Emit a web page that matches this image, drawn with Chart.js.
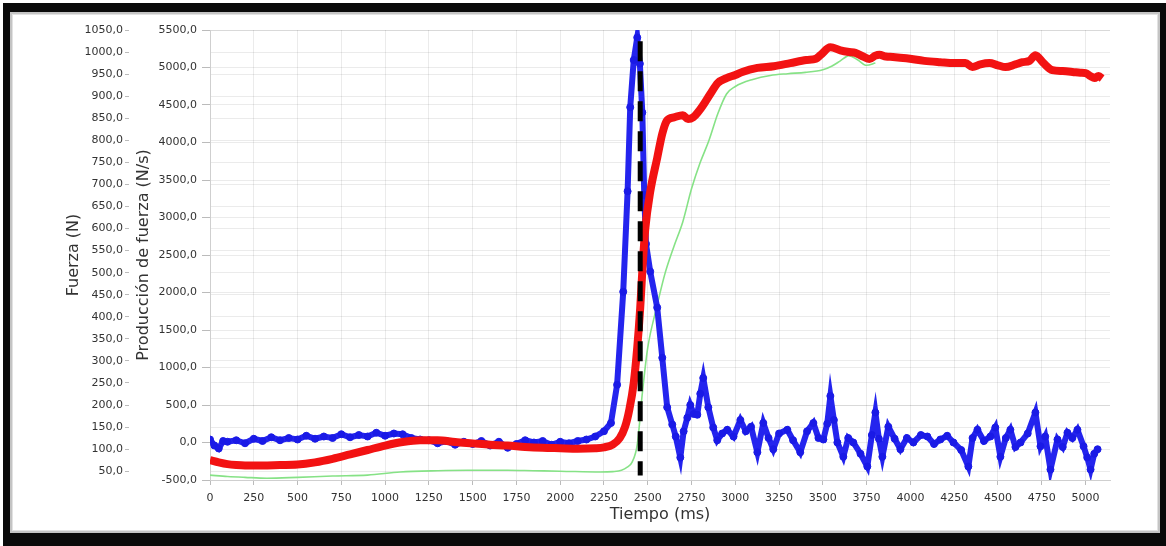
<!DOCTYPE html>
<html>
<head>
<meta charset="utf-8">
<script src="https://cdn.jsdelivr.net/npm/chart.js@4.4.1/dist/chart.umd.min.js"></script>
<style>
  body { margin: 0; background: #fff; }
  #frame { position: absolute; left: 3px; top: 3px; width: 1163px; height: 543px; background: #0a0a0a; }
  #panel { position: absolute; left: 10px; top: 12px; width: 1146px; height: 517px; background: #fff;
           border: 2px solid #c4c4c4; box-shadow: inset 0 0 0 1px #e2e2e2; }
  #wrap { position: absolute; left: 0; top: 0; width: 1166px; height: 546px; }
</style>
</head>
<body>
<div id="frame"></div>
<div id="panel"></div>
<div id="wrap"><canvas id="fuerzaChart" width="1166" height="546"></canvas></div>
<script>
// Producción de fuerza (N/s) - blue
const blueTime = [
  0, 25, 50, 75, 100, 150, 200, 250, 300, 350,
  400, 450, 500, 550, 600, 650, 700, 750, 800, 850,
  900, 950, 1000, 1050, 1100, 1150, 1200, 1250, 1300, 1350,
  1400, 1450, 1500, 1550, 1600, 1650, 1700, 1750, 1800, 1850,
  1900, 1950, 2000, 2050, 2100, 2150, 2200, 2250, 2290, 2325,
  2360, 2385, 2400, 2420, 2440, 2455, 2469, 2480, 2490, 2514,
  2554, 2583, 2611, 2640, 2660, 2686, 2705, 2726, 2743, 2763,
  2783, 2800, 2817, 2846, 2874, 2897, 2925, 2954, 2990, 3029,
  3060, 3090, 3126, 3160, 3190, 3217, 3250, 3297, 3330, 3371,
  3410, 3446, 3475, 3503, 3525, 3543, 3563, 3583, 3617, 3645,
  3674, 3715, 3754, 3780, 3800, 3820, 3840, 3874, 3910, 3943,
  3980, 4017, 4060, 4097, 4135, 4171, 4210, 4246, 4290, 4331,
  4355, 4383, 4420, 4457, 4485, 4514, 4545, 4571, 4600, 4629,
  4670, 4714, 4743, 4770, 4800, 4840, 4870, 4897, 4925, 4954,
  4989, 5010, 5029, 5050, 5069
];
const blueRate = [
  40, -40, -80, 20, 10, 30, -10, 50, 20, 70,
  30, 60, 40, 90, 50, 80, 60, 110, 70, 100,
  80, 130, 90, 120, 110, 60, 40, 30, -10, 20,
  -30, 10, -20, 20, -40, 10, -70, -20, 30, 0,
  20, -30, 10, -10, 20, 40, 80, 150, 260, 770,
  2010, 3350, 4470, 5100, 5400, 5050, 4400, 3300, 2650, 2280,
  1800, 1130, 470, 240, 80, -200, 150, 330, 500, 380,
  370, 650, 860, 470, 200, 30, 120, 170, 80, 300,
  150, 210, -130, 260, 60, -90, 120, 170, 30, -130,
  150, 260, 60, 40, 250, 620, 300, 0, -190, 60,
  0, -150, -320, 100, 400, 50, -190, 210, 50, -90,
  60, 0, 100, 80, -20, 40, 90, 0, -100, -320,
  60, 170, 20, 80, 200, -190, 60, 170, -60, 0,
  120, 400, -50, 80, -360, 40, -60, 130, 60, 170,
  -50, -200, -360, -150, -90
];

// Fuerza (N) - red
const redTime = [
  0, 50, 100, 150, 200, 300, 400, 500, 600, 700,
  800, 900, 1000, 1100, 1200, 1300, 1400, 1500, 1600, 1700,
  1800, 1900, 2000, 2100, 2200, 2250, 2300, 2340, 2370, 2395,
  2420, 2440, 2457, 2470, 2486, 2514, 2554, 2583, 2610, 2650,
  2700, 2730, 2760, 2790, 2817, 2857, 2900, 2950, 3000, 3040,
  3126, 3220, 3314, 3406, 3460, 3486, 3543, 3600, 3650, 3686,
  3730, 3766, 3800, 3823, 3860, 3900, 3977, 4080, 4171, 4250,
  4314, 4354, 4400, 4451, 4500, 4543, 4600, 4640, 4680, 4714,
  4760, 4811, 4870, 4926, 4970, 5000, 5030, 5051, 5075, 5095
];
const redForce = [
  75, 70, 66, 64, 63, 63, 64, 65, 70, 78,
  88, 98, 108, 116, 120, 120, 116, 113, 110, 108,
  105, 103, 102, 101, 102, 104, 110, 125, 150, 190,
  250, 330, 420, 510, 600, 683, 760, 815, 845, 852,
  857, 848, 852, 865, 880, 905, 930, 941, 948, 955,
  964, 968, 975, 982, 985, 993, 1011, 1004, 1000, 998,
  990, 984, 992, 994, 990, 989, 986, 980, 977, 975,
  975, 966, 972, 975, 970, 966, 972, 977, 980, 993,
  975, 959, 957, 955, 953, 952, 945, 941, 946, 940
];

// Fuerza (N) - green
const greenTime = [
  0, 100, 200, 325, 500, 700, 900, 1086, 1300, 1469,
  1700, 1846, 2000, 2229, 2300, 2350, 2383, 2410, 2440, 2470,
  2500, 2550, 2600, 2650, 2700, 2750, 2800, 2850, 2900, 2950,
  3000, 3100, 3200, 3300, 3400, 3500, 3550, 3600, 3650, 3700,
  3750, 3800
];
const greenForce = [
  41, 38, 36, 34, 36, 39, 41, 48, 51, 52,
  52, 51, 50, 48, 49, 52, 59, 70, 110, 230,
  330, 420, 500, 560, 615, 690, 750, 800, 860, 905,
  922, 938, 947, 951, 954, 960, 968, 980, 992, 982,
  970, 975
];

// dashed marker (ms) and its extent on the N/s axis
const markerTime = [2457, 2457];
const markerRate = [5350, -440];

function toPoints(xs, ys) {
  return xs.map((x, i) => ({ x: x, y: ys[i] }));
}

const tickFont = { family: 'DejaVu Sans', size: 11 };
const titleFont = { family: 'DejaVu Sans', size: 16 };
const gridColor = 'rgba(0,0,0,0.08)';
const comma = v => v.toFixed(1).replace('.', ',');

const ctx = document.getElementById('fuerzaChart').getContext('2d');
new Chart(ctx, {
  type: 'line',
  data: {
    datasets: [
      {
        data: toPoints(markerTime, markerRate),
        yAxisID: 'yRate',
        borderColor: '#000',
        borderWidth: 5,
        borderDash: [20, 10],
        pointRadius: 0,
        order: 0
      },
      {
        data: toPoints(redTime, redForce),
        yAxisID: 'yForce',
        borderColor: '#f21212',
        borderWidth: 8,
        pointRadius: 0,
        cubicInterpolationMode: 'monotone',
        order: 1
      },
      {
        data: toPoints(blueTime, blueRate),
        yAxisID: 'yRate',
        borderColor: '#2424ee',
        borderWidth: 6,
        pointRadius: 3.5,
        pointBackgroundColor: '#1a1ae6',
        pointBorderColor: '#1a1ae6',
        pointBorderWidth: 1,
        order: 2
      },
      {
        data: toPoints(greenTime, greenForce),
        yAxisID: 'yForce',
        borderColor: '#86e286',
        borderWidth: 1.6,
        pointRadius: 0,
        cubicInterpolationMode: 'monotone',
        order: 3
      }
    ]
  },
  options: {
    responsive: false,
    animation: false,
    layout: { padding: { left: 60, top: 30, right: 56, bottom: 18 } },
    plugins: { legend: { display: false }, tooltip: { enabled: false } },
    scales: {
      x: {
        type: 'linear',
        min: 0,
        max: 5140,
        afterFit: s => { s.height = 48; },
        ticks: {
          stepSize: 250, includeBounds: false, autoSkip: false, maxRotation: 0,
          font: tickFont, color: '#333', padding: 7,
          callback: v => String(v)
        },
        grid: { color: gridColor, tickColor: '#bbb', tickLength: 5 },
        border: { color: '#cfcfcf' },
        title: { display: true, text: 'Tiempo (ms)', font: titleFont, color: '#333', padding: { top: 0, bottom: 4 } }
      },
      yForce: {
        position: 'left',
        weight: 1,
        min: 30,
        max: 1050,
        afterFit: s => { s.width = 69; },
        ticks: {
          stepSize: 50, includeBounds: false, autoSkip: false,
          font: tickFont, color: '#333', padding: 2, callback: comma
        },
        grid: { color: gridColor, tickColor: '#bbb', tickLength: 4 },
        border: { display: false },
        title: { display: true, text: 'Fuerza (N)', font: titleFont, color: '#333', padding: { top: 4, bottom: 0 } }
      },
      yRate: {
        position: 'left',
        weight: 0,
        min: -500,
        max: 5500,
        afterFit: s => { s.width = 81; },
        ticks: {
          stepSize: 500, autoSkip: false, font: tickFont, color: '#333', padding: 5, callback: comma
        },
        grid: { color: gridColor, tickColor: '#bbb', tickLength: 8 },
        border: { color: '#cfcfcf' },
        title: { display: true, text: 'Producción de fuerza (N/s)', font: titleFont, color: '#333', padding: { top: 5, bottom: 0 } }
      }
    }
  }
});
</script>
</body>
</html>
